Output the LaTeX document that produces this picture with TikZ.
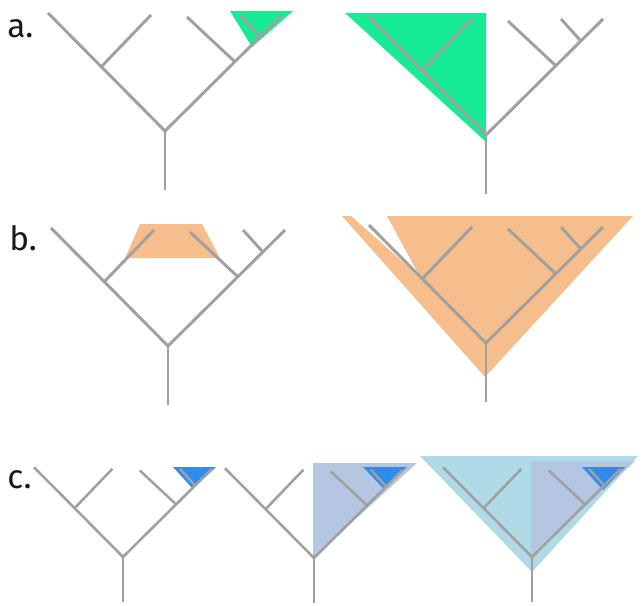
\documentclass[tikz,border=0pt]{standalone}
\usepackage{fontspec}
\setmainfont{Fira Sans}
\definecolor{mint}{RGB}{24,235,150}
\definecolor{peach}{RGB}{245,190,140}
\definecolor{branchgrey}{RGB}{160,160,160}
\definecolor{paleblue}{RGB}{176,218,230}
\definecolor{steelpale}{RGB}{180,198,226}
\definecolor{brightblue}{RGB}{45,140,240}
\definecolor{labelink}{RGB}{25,25,25}
\newcommand\mktree[4]{%
  \begin{scope}[shift={(#2,#3)},scale=#4]
    \coordinate (#1r) at (0,0);
    \coordinate (#1s) at (0,59);
    \coordinate (#1A) at (-117,-118);
    \coordinate (#1L) at (-63,-65);
    \coordinate (#1B) at (-14,-116);
    \coordinate (#1R1) at (69,-70);
    \coordinate (#1C) at (22,-114);
    \coordinate (#1R2) at (94,-95);
    \coordinate (#1D) at (75,-116);
    \coordinate (#1E) at (117,-116);
  \end{scope}}
\newcommand\drawtree[2]{%
  \draw[branch,line width=#2] (#1s) -- (#1r);
  \draw[branch,line width=#2] (#1A) -- (#1r) -- (#1E);
  \draw[branch,line width=#2] (#1L) -- (#1B);
  \draw[branch,line width=#2] (#1R1) -- (#1C);
  \draw[branch,line width=#2] (#1R2) -- (#1D);}
\begin{document}
\begin{tikzpicture}[x=0.75pt,y=-0.75pt,
  branch/.style={draw=branchgrey,line cap=butt,line join=miter},
  panel/.style={font=\fontsize{25}{25}\selectfont,text=labelink,anchor=base west,inner sep=0pt}]
\useasboundingbox (0,0) rectangle (642,606);
% trees
\mktree{a1}{165}{131}{1}
\mktree{a2}{486}{135}{1}
\mktree{b1}{168}{346}{1}
\mktree{b2}{486}{343}{1}
\mktree{c1}{123}{557}{0.76}
\mktree{c2}{314}{558}{0.76}
\mktree{c3}{532}{557}{0.76}
% labels
\node[panel] (la) at (7,38) {a.};
\node[panel] (lb) at (9,250) {b.};
\node[panel] (lc) at (7,488) {c.};
% fills row a
\fill[mint] (230,11) -- (293,11) -- (252,47) -- cycle;
\fill[mint] (345,13) -- (486,13) -- (486,142) -- cycle;
% fills row b
\fill[peach] (140,224) -- (202,224) -- (220,258) -- (125,258) -- cycle;
\fill[peach] (342,216) -- (351,216) -- (420,277) -- (387,216) -- (633,216) -- (485,377) -- cycle;
% fills row c
\fill[paleblue] (420,456) -- (638,456) -- (532,572) -- cycle;
\fill[steelpale] (313,463) -- (417,463) -- (313,558) -- cycle;
\fill[steelpale] (531,461) -- (635,461) -- (531,557) -- cycle;
\fill[brightblue] (173,467) -- (216,467) -- (193,489) -- cycle;
\fill[brightblue] (363,467) -- (407,467) -- (383,488) -- cycle;
\fill[brightblue] (582,467) -- (625,467) -- (603,490) -- cycle;
% tree lines on top
\drawtree{a1}{2.2pt}
\drawtree{a2}{2.2pt}
\drawtree{b1}{2.2pt}
\drawtree{b2}{2.2pt}
\drawtree{c1}{1.9pt}
\drawtree{c2}{1.9pt}
\drawtree{c3}{1.9pt}
\end{tikzpicture}
\end{document}
